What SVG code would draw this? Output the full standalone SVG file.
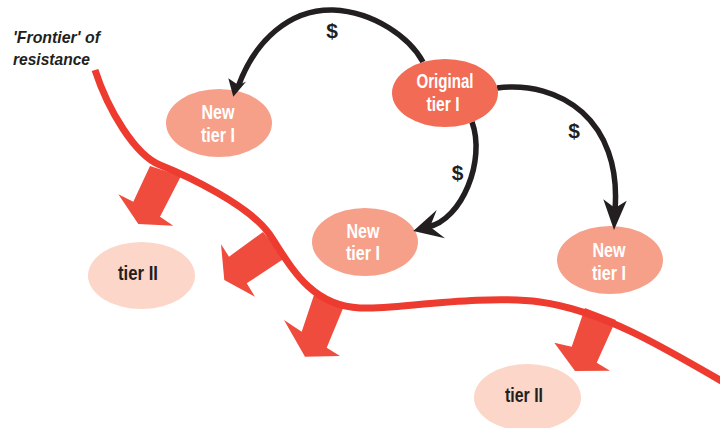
<svg xmlns="http://www.w3.org/2000/svg" width="720" height="428" viewBox="0 0 720 428">
<style>
.lbl{font-family:"Liberation Sans",Arial,sans-serif;font-weight:bold;font-size:19.5px;text-anchor:middle}
.w{fill:#ffffff}
.d{fill:#231f20}
.orig{fill:#f26c55}
.new{fill:#f6a08a}
.t2{fill:#fbd6c9}
.link{fill:none;stroke:#231f20;stroke-width:5.5}
.head{fill:#231f20}
.push{fill:#ef4c3d}
.front{fill:none;stroke:#ed3b30;stroke-width:7}
.cost{font-family:"Liberation Sans",Arial,sans-serif;font-weight:bold;font-size:21px;fill:#231f20;text-anchor:middle}
.note{font-family:"Liberation Sans",Arial,sans-serif;font-weight:bold;font-style:italic;font-size:17px;fill:#231f20}
</style>
<rect width="720" height="428" fill="#ffffff"/>

<g id="pressure-arrows">
<polygon class="push" points="150,166 133.3,201.7 118.3,194.3 138.3,224 173.3,225.7 160,216.7 181,176"/>
<polygon class="push" points="263,232 229,256.7 221,244.3 224.3,280 255,296.7 246.7,283.3 285,258"/>
<polygon class="push" points="314,295 301.7,331.7 284,320 305,356.7 340,356 326.7,347.7 344,306"/>
<polygon class="push" points="585,308 571.7,346.7 554.3,342.7 575,371 610,370.7 596.7,362.7 616,320"/>
</g>

<g id="frontier">
<path class="front" d="M 95 70 C 108 110, 135 155, 160 165 C 185 175, 250 205, 270 235 C 290 265, 310 306, 360 308 C 390 310, 480 294, 540 302 C 600 310, 660 345, 730 386"/>
<text class="note" x="13" y="43" textLength="87" lengthAdjust="spacingAndGlyphs">'Frontier' of</text>
<text class="note" x="13" y="65" textLength="77" lengthAdjust="spacingAndGlyphs">resistance</text>
</g>

<g id="new-tier-1-left">
<ellipse class="new" cx="219" cy="123" rx="53" ry="34"/>
<text class="lbl w" x="218" y="119" textLength="33" lengthAdjust="spacingAndGlyphs">New</text>
<text class="lbl w" x="218" y="142" textLength="34" lengthAdjust="spacingAndGlyphs">tier I</text>
</g>

<g id="new-tier-1-middle">
<ellipse class="new" cx="365" cy="242" rx="53" ry="34"/>
<text class="lbl w" x="363" y="238" textLength="33" lengthAdjust="spacingAndGlyphs">New</text>
<text class="lbl w" x="363" y="260" textLength="34" lengthAdjust="spacingAndGlyphs">tier I</text>
</g>

<g id="new-tier-1-right">
<ellipse class="new" cx="610" cy="260" rx="53" ry="34"/>
<text class="lbl w" x="609" y="257" textLength="33" lengthAdjust="spacingAndGlyphs">New</text>
<text class="lbl w" x="609" y="280" textLength="34" lengthAdjust="spacingAndGlyphs">tier I</text>
</g>

<g id="tier-2-left">
<ellipse class="t2" cx="141.5" cy="275.5" rx="53.5" ry="33.5"/>
<text class="lbl d" x="138" y="280" textLength="40" lengthAdjust="spacingAndGlyphs">tier II</text>
</g>

<g id="tier-2-right">
<ellipse class="t2" cx="527.5" cy="397.5" rx="53.5" ry="33.5"/>
<text class="lbl d" x="524" y="402" textLength="38" lengthAdjust="spacingAndGlyphs">tier II</text>
</g>

<g id="connectors">
<path class="link" d="M 423 62 C 410 38, 375 12, 333 10 C 290 9, 255 40, 238 87"/>
<polygon class="head" points="233.3,96.7 228.3,78.3 238.3,85 246,81.7"/>
<path class="link" d="M 472 122 C 486 160, 462 220, 428 227"/>
<polygon class="head" points="413.3,231 436.7,210 430,226.7 445,238.3"/>
<path class="link" d="M 497 88 C 560 80, 622 120, 615 210"/>
<polygon class="head" points="614,230 603.3,199.3 615,208 626.7,200.7"/>
<text class="cost" x="332" y="37.5">$</text>
<text class="cost" x="574" y="137.5">$</text>
<text class="cost" x="457.5" y="180">$</text>
</g>

<g id="original-tier-1">
<ellipse class="orig" cx="445" cy="93" rx="53" ry="34"/>
<text class="lbl w" x="445" y="88" textLength="57" lengthAdjust="spacingAndGlyphs">Original</text>
<text class="lbl w" x="443" y="110.5" textLength="33" lengthAdjust="spacingAndGlyphs">tier I</text>
</g>
</svg>
